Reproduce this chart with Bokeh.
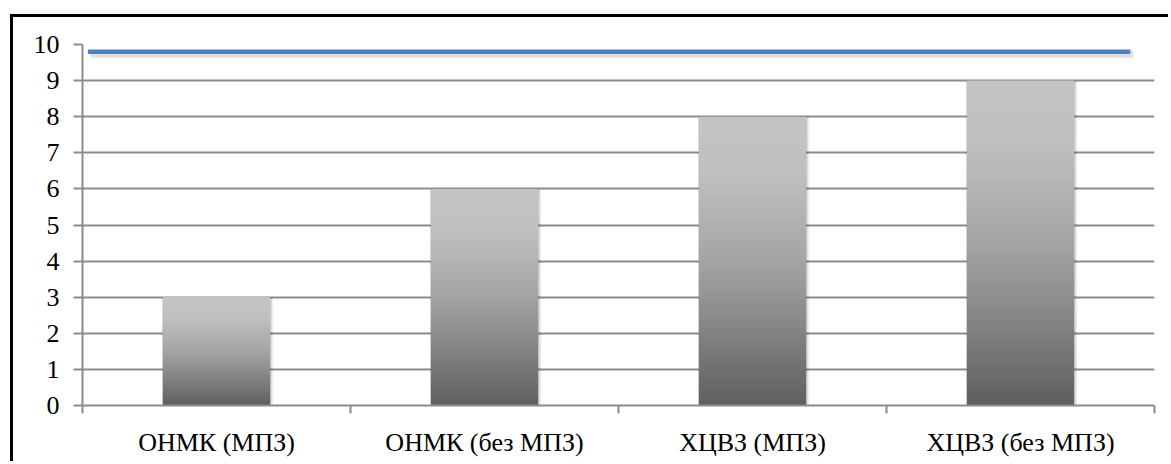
from bokeh.plotting import figure
from bokeh.models import FixedTicker, Range1d
from bokeh.embed import file_html
from bokeh.resources import INLINE

# Chart data
categories = ["ОНМК (МПЗ)", "ОНМК (без МПЗ)", "ХЦВЗ (МПЗ)", "ХЦВЗ (без МПЗ)"]
values = [3, 6, 8, 9]
norm_level = [9.8, 9.8]
norm_span = [0.02, 3.91]
y_ticks = [0, 1, 2, 3, 4, 5, 6, 7, 8, 9, 10]

FONT = "Liberation Serif"
GRID = "#8c8c8c"

p = figure(
    width=1158, height=447,
    x_range=Range1d(0, len(categories)), y_range=Range1d(0, 10),
    output_backend="svg", toolbar_location=None,
    min_border_left=69, min_border_right=17,
    min_border_top=27, min_border_bottom=59,
)
p.margin = (14, 0, 0, 10)
p.styles = {"border-left": "3px solid black", "border-top": "3px solid black"}
p.outline_line_color = None
p.background_fill_color = "white"
p.border_fill_color = "white"

# gradient stops (position from top of bar, grey level)
stops = [(0.0, 0xC4), (0.2, 0xBF), (0.5, 0xA4), (0.75, 0x83), (1.0, 0x5E)]


def grey_at(t):
    for (t0, g0), (t1, g1) in zip(stops[:-1], stops[1:]):
        if t <= t1:
            g = g0 + (g1 - g0) * (t - t0) / (t1 - t0)
            g = int(round(g))
            return "#%02x%02x%02x" % (g, g, g)
    g = stops[-1][1]
    return "#%02x%02x%02x" % (g, g, g)


# soft shadow behind bars
bar_w = 0.4
centers = [i + 0.5 for i in range(len(categories))]
for k, a in [(0.012, 0.05), (0.008, 0.07), (0.004, 0.09)]:
    p.quad(left=[c - bar_w / 2 - k * 0.3 for c in centers],
           right=[c + bar_w / 2 + k for c in centers],
           bottom=[0] * len(values), top=[v - k * 0.3 for v in values],
           fill_color="black", fill_alpha=a, line_color=None)

# bars with vertical gradient built from overlapping thin slices
N = 60
lefts, rights, bottoms, tops, colors = [], [], [], [], []
for c, v in zip(centers, values):
    for i in range(N):
        lefts.append(c - bar_w / 2)
        rights.append(c + bar_w / 2)
        bottoms.append(v * i / N)
        tops.append(min(v, v * (i + 1) / N + 0.05))
        t = 1 - (i + 0.5) / N
        colors.append(grey_at(t))
p.quad(left=lefts, right=rights, bottom=bottoms, top=tops,
       fill_color=colors, line_color=None)

# reference line with a light shadow
p.line(x=[x + 0.01 for x in norm_span], y=[y - 0.07 for y in norm_level],
       line_color="black", line_alpha=0.12, line_width=7)
p.line(x=norm_span, y=norm_level, line_color="#4f81bd", line_width=4.5)

# axes
p.xgrid.visible = False
p.ygrid.ticker = FixedTicker(ticks=y_ticks)
p.ygrid.grid_line_color = GRID
p.ygrid.grid_line_width = 2

p.yaxis.ticker = FixedTicker(ticks=y_ticks)
p.yaxis.axis_line_color = GRID
p.yaxis.axis_line_width = 2
p.yaxis.major_tick_line_color = GRID
p.yaxis.major_tick_line_width = 2
p.yaxis.major_tick_out = 9
p.yaxis.major_tick_in = 0
p.yaxis.minor_tick_line_color = None
p.yaxis.major_label_standoff = 14
p.yaxis.major_label_text_font = FONT
p.yaxis.major_label_text_font_size = "26px"
p.yaxis.major_label_text_color = "black"

p.xaxis.ticker = FixedTicker(ticks=centers,
                             minor_ticks=list(range(len(categories) + 1)))
p.xaxis.major_label_overrides = {c: lab for c, lab in zip(centers, categories)}
p.xaxis.axis_line_color = GRID
p.xaxis.axis_line_width = 2
p.xaxis.major_tick_line_color = None
p.xaxis.major_tick_out = 0
p.xaxis.major_tick_in = 0
p.xaxis.minor_tick_line_color = GRID
p.xaxis.minor_tick_line_width = 2
p.xaxis.minor_tick_out = 8
p.xaxis.minor_tick_in = 0
p.xaxis.major_label_standoff = 14
p.xaxis.major_label_text_font = FONT
p.xaxis.major_label_text_font_size = "26px"
p.xaxis.major_label_text_color = "black"

open("out.html", "w").write(file_html(p, INLINE))
